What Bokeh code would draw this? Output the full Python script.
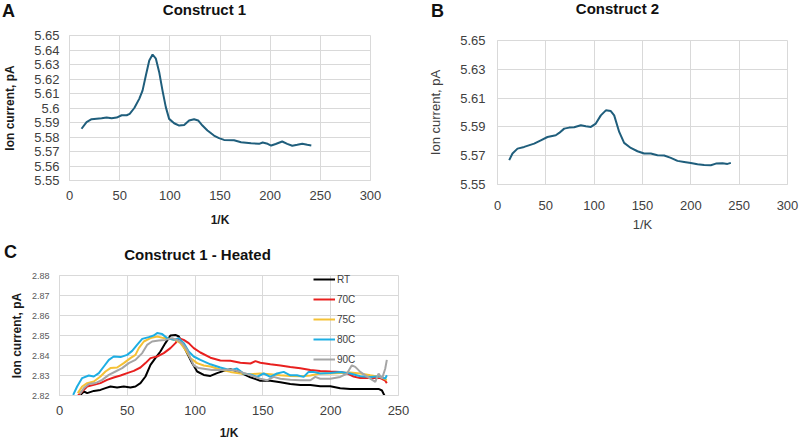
from bokeh.plotting import figure
from bokeh.layouts import column, row
from bokeh.models import (Range1d, FixedTicker, CustomJSTickFormatter,
                          Legend, LegendItem)
from bokeh.core.properties import value
from bokeh.embed import file_html
from bokeh.resources import INLINE

# ---------------- data ----------------
# Panel A: Construct 1
a_x = [12, 17, 22, 32, 37, 42, 47, 52, 57, 60, 64.6, 69.5, 72.8, 76.1, 79.5, 82.8,
       86.1, 89.4, 92.7, 96, 99.3, 104.3, 109.3, 114.3, 119.2, 124.2, 128.2, 132.5,
       137.5, 144, 149, 154, 164, 171, 181, 189, 192.5, 197.5, 201, 205.5, 212, 217,
       222, 227, 232, 237, 241]
a_y = [5.5857, 5.5902, 5.5923, 5.5930, 5.5935, 5.5930, 5.5934, 5.5950, 5.5950, 5.5960,
       5.6000, 5.6063, 5.6120, 5.6224, 5.6328, 5.6369, 5.6340, 5.6247, 5.6120, 5.6006,
       5.5925, 5.5895, 5.5879, 5.5883, 5.5914, 5.5922, 5.5914, 5.5879, 5.5845, 5.5810,
       5.5792, 5.5780, 5.5777, 5.5764, 5.5757, 5.5753, 5.5762, 5.5753, 5.5741, 5.5752,
       5.5769, 5.5753, 5.5740, 5.5746, 5.5753, 5.5746, 5.5741]

# Panel B: Construct 2
b_x = [12.1, 15.5, 20.7, 27.6, 37.9, 44.8, 51.7, 60.3, 63.8, 69, 74.1, 79.3, 86.2, 91.4,
       96.6, 101.7, 106.9, 112.1, 117.2, 120.7, 125.9, 131, 137.9, 144.8, 151.7, 158.6,
       165.5, 172.4, 179.3, 186.2, 193.1, 200, 206.9, 213.8, 220.7, 225.9, 232.8, 237.9,
       241.4]
b_y = [5.5669, 5.5715, 5.5749, 5.5761, 5.5784, 5.5807, 5.5830, 5.5842, 5.5858, 5.5888,
       5.5895, 5.5897, 5.5911, 5.5904, 5.5900, 5.5923, 5.5980, 5.6015, 5.6010, 5.5980,
       5.5865, 5.5789, 5.5754, 5.5731, 5.5715, 5.5715, 5.5703, 5.5701, 5.5685, 5.5664,
       5.5657, 5.5650, 5.5641, 5.5636, 5.5634, 5.5645, 5.5648, 5.5643, 5.5650]

# Panel C: Construct 1 - Heated
rt_x = [14.2, 18, 20.4, 25.3, 30.2, 33.9, 37.6, 42.5, 47.4, 52.3, 56, 59.7, 63.4, 67.1,
        70.7, 74.4, 78.1, 81.8, 85.5, 88, 90.4, 94.1, 97.8, 101.5, 106.4, 111.3, 116.2,
        121.1, 126, 133.4, 140.8, 148.1, 155.5, 162.9, 170.2, 177.6, 185, 192.3, 199.7,
        207, 214.4, 221.8, 229.2, 235.3, 237.8, 240.2]
rt_y = [2.8195, 2.8220, 2.8212, 2.8223, 2.8228, 2.8237, 2.8245, 2.8240, 2.8245, 2.8240,
        2.8245, 2.8262, 2.8295, 2.8353, 2.8387, 2.8420, 2.8462, 2.8500, 2.8503, 2.8495,
        2.8462, 2.8412, 2.8362, 2.8320, 2.8303, 2.8298, 2.8312, 2.8323, 2.8332, 2.8315,
        2.8291, 2.8274, 2.8274, 2.8266, 2.8258, 2.8253, 2.8253, 2.8246, 2.8246, 2.8236,
        2.8233, 2.8233, 2.8233, 2.8233, 2.8225, 2.8192]

c70_x = [13, 16.7, 20.4, 25.3, 30.2, 35.1, 40, 45, 49.9, 54.8, 59.7, 63.4, 67.1, 72,
         76.9, 81.8, 85.5, 88, 91.6, 95.3, 99, 103.9, 111.3, 118.6, 126, 133.4, 140.8,
         144.5, 148.1, 155.5, 162.9, 170.2, 177.6, 185, 192.3, 199.7, 207, 212, 216.9,
         221.8, 229.2, 236.6, 240.2, 241.4]
c70_y = [2.8195, 2.8220, 2.8245, 2.8253, 2.8262, 2.8278, 2.8290, 2.8300, 2.8312, 2.8323,
         2.8340, 2.8362, 2.8387, 2.8395, 2.8412, 2.8437, 2.8462, 2.8487, 2.8478, 2.8462,
         2.8437, 2.8415, 2.8389, 2.8375, 2.8374, 2.8364, 2.8360, 2.8372, 2.8364, 2.8356,
         2.8350, 2.8343, 2.8336, 2.8328, 2.8323, 2.8320, 2.8318, 2.8311, 2.8295, 2.8287,
         2.8289, 2.8287, 2.8274, 2.8262]

c75_x = [13.5, 16.7, 20.4, 25.3, 30.2, 33.9, 37.6, 42.5, 47.4, 52.3, 56, 58.5, 62.2,
         67.1, 72, 76.9, 81.8, 85.5, 89.2, 92.9, 96.5, 101.5, 106.4, 111.3, 118.6, 126,
         133.4, 140.8, 148.1, 155.5, 162.9, 170.2, 177.6, 185, 192.3, 199.7, 207, 214.4,
         221.8, 229.2, 236.6, 241.4]
c75_y = [2.8212, 2.8245, 2.8262, 2.8270, 2.8295, 2.8320, 2.8337, 2.8340, 2.8362, 2.8387,
         2.8403, 2.8437, 2.8470, 2.8487, 2.8495, 2.8487, 2.8483, 2.8478, 2.8462, 2.8428,
         2.8387, 2.8362, 2.8350, 2.8345, 2.8330, 2.8318, 2.8310, 2.8306, 2.8310, 2.8306,
         2.8301, 2.8298, 2.8296, 2.8300, 2.8310, 2.8310, 2.8313, 2.8315, 2.8310, 2.8301,
         2.8293, 2.8277]

c80_x = [10.1, 13, 16.7, 21.6, 25.3, 29, 32.7, 36.4, 40, 45, 49.9, 53.6, 57.2, 61, 65.8,
         69.5, 72, 75.7, 79.4, 84.3, 88, 91.6, 95.3, 99, 103.9, 111.3, 118.6, 126, 130.9,
         135.8, 140.8, 145.7, 150.6, 155.5, 160.4, 165.3, 170.2, 175.1, 180.1, 183.7,
         187.4, 192.3, 199.7, 207, 214.4, 221.8, 229.2, 236.6, 240.2, 241.4]
c80_y = [2.8203, 2.8245, 2.8287, 2.8300, 2.8295, 2.8312, 2.8345, 2.8378, 2.8395, 2.8392,
         2.8403, 2.8423, 2.8453, 2.8483, 2.8492, 2.8500, 2.8512, 2.8507, 2.8487, 2.8478,
         2.8487, 2.8462, 2.8420, 2.8395, 2.8378, 2.8356, 2.8340, 2.8327, 2.8335, 2.8310,
         2.8305, 2.8293, 2.8310, 2.8293, 2.8310, 2.8318, 2.8301, 2.8301, 2.8293, 2.8318,
         2.8318, 2.8310, 2.8313, 2.8318, 2.8310, 2.8296, 2.8293, 2.8296, 2.8284, 2.8301]

c90_x = [14.9, 18, 21.6, 26.6, 31.5, 36.4, 41.3, 46.2, 51.1, 56, 61, 64.6, 68.3, 73.2,
         78.1, 83, 86.7, 90.4, 94.1, 96.5, 99, 102.7, 107.6, 112.5, 118.6, 126, 133.4,
         140.8, 148.1, 153, 158, 162.9, 170.2, 177.6, 185, 188.6, 192.3, 199.7, 207, 212,
         215.6, 218.1, 221.8, 225.5, 229.2, 232.9, 235.3, 237.8, 240.2, 241.4]
c90_y = [2.8207, 2.8237, 2.8257, 2.8262, 2.8278, 2.8303, 2.8320, 2.8337, 2.8362, 2.8378,
         2.8412, 2.8453, 2.8470, 2.8475, 2.8478, 2.8487, 2.8478, 2.8462, 2.8428, 2.8387,
         2.8350, 2.8337, 2.8333, 2.8328, 2.8327, 2.8330, 2.8318, 2.8301, 2.8284, 2.8276,
         2.8293, 2.8284, 2.8279, 2.8276, 2.8276, 2.8293, 2.8284, 2.8284, 2.8293, 2.8310,
         2.8351, 2.8343, 2.8318, 2.8301, 2.8284, 2.8268, 2.8310, 2.8284, 2.8334, 2.8378]

series_names = ["RT", "70C", "75C", "80C", "90C"]
series_colors = ["#000000", "#e8201f", "#f5c135", "#1eaee3", "#a5a5a5"]

titles = ["Construct 1", "Construct 2", "Construct 1 - Heated"]
letters = ["A", "B", "C"]

ab_xticks = [0, 50, 100, 150, 200, 250, 300]
a_yticks = [5.55, 5.56, 5.57, 5.58, 5.59, 5.60, 5.61, 5.62, 5.63, 5.64, 5.65]
b_yticks = [5.55, 5.57, 5.59, 5.61, 5.63, 5.65]
c_xticks = [0, 50, 100, 150, 200, 250]
c_yticks = [2.82, 2.83, 2.84, 2.85, 2.86, 2.87, 2.88]

FONT = "Liberation Sans"
GRID = "#d9d9d9"
LINE_AB = "#1f5e7c"


def style(p, xticks, yticks, yfmt, tick_size, ytick_size, ytick_color):
    p.outline_line_color = GRID
    p.xaxis.ticker = FixedTicker(ticks=xticks)
    p.yaxis.ticker = FixedTicker(ticks=yticks)
    p.yaxis.formatter = CustomJSTickFormatter(code=yfmt)
    for ax in (p.xaxis[0], p.yaxis[0]):
        ax.axis_line_color = GRID
        ax.major_tick_line_color = None
        ax.minor_tick_line_color = None
        ax.major_tick_in = 0
        ax.major_tick_out = 0
        ax.minor_tick_in = 0
        ax.minor_tick_out = 0
        ax.major_label_text_font = FONT
    p.xaxis.major_label_text_font_size = tick_size
    p.xaxis.major_label_text_color = "#404040"
    p.yaxis.major_label_text_font_size = ytick_size
    p.yaxis.major_label_text_color = ytick_color
    p.xgrid.grid_line_color = GRID
    p.ygrid.grid_line_color = GRID


def heading_strip(width, height, entries):
    """A strip that holds panel letters and titles; 1 unit = 1 px, y downwards."""
    s = figure(width=width, height=height, output_backend="svg",
               toolbar_location=None, x_range=Range1d(0, width),
               y_range=Range1d(height, 0), x_axis_location=None,
               y_axis_location=None, min_border=0, min_border_left=0,
               min_border_right=0, min_border_top=0, min_border_bottom=0)
    s.outline_line_color = None
    s.grid.visible = False
    for txt, x, y, size in entries:
        s.text(x=[x], y=[y], text=[txt], text_font=value(FONT),
               text_font_size=size, text_font_style="bold", text_align="center",
               text_baseline="middle", text_color="#111111")
    return s


# ---------------- headings ----------------
strip1 = heading_strip(800, 20, [(letters[0], 8, 10, "18px"),
                                 (titles[0], 204, 9, "15px"),
                                 (letters[1], 437, 10, "18px"),
                                 (titles[1], 617, 8, "15px")])
strip2 = heading_strip(420, 28, [(letters[2], 10, 15, "18px"),
                                 (titles[2], 197, 18, "15px")])

# ---------------- Panel A ----------------
pA = figure(width=400, height=216, output_backend="svg", toolbar_location=None,
            x_range=Range1d(0, 300), y_range=Range1d(5.55, 5.65),
            min_border_left=68, min_border_right=30, min_border_top=15,
            min_border_bottom=56)
pA.line(a_x, a_y, line_color=LINE_AB, line_width=2)
style(pA, ab_xticks, a_yticks, "return Number(tick.toFixed(2)).toString();",
      "13px", "13px", "#404040")
pA.xaxis.axis_label = "1/K"
pA.yaxis.axis_label = "Ion current, pA"
for ax in (pA.xaxis[0], pA.yaxis[0]):
    ax.axis_label_text_font = FONT
    ax.axis_label_text_font_size = "12px"
    ax.axis_label_text_font_style = "bold"
    ax.axis_label_text_color = "#1a1a1a"
pA.xaxis.major_label_standoff = 10
pA.xaxis.axis_label_standoff = 10
pA.yaxis.major_label_standoff = 10
pA.yaxis.axis_label_standoff = 14

# ---------------- Panel B ----------------
pB = figure(width=400, height=216, output_backend="svg", toolbar_location=None,
            x_range=Range1d(0, 300), y_range=Range1d(5.55, 5.65),
            min_border_left=97, min_border_right=13, min_border_top=20,
            min_border_bottom=52)
pB.line(b_x, b_y, line_color=LINE_AB, line_width=2)
style(pB, ab_xticks, b_yticks, "return tick.toFixed(2);", "13px", "13px", "#404040")
pB.xaxis.axis_label = "1/K"
pB.yaxis.axis_label = "Ion current, pA"
for ax in (pB.xaxis[0], pB.yaxis[0]):
    ax.axis_label_text_font = FONT
    ax.axis_label_text_font_size = "13px"
    ax.axis_label_text_font_style = "normal"
    ax.axis_label_text_color = "#404040"
pB.xaxis.major_label_standoff = 16
pB.xaxis.axis_label_standoff = 4
pB.yaxis.major_label_standoff = 12
pB.yaxis.axis_label_standoff = 14

# ---------------- Panel C ----------------
pC = figure(width=420, height=178, output_backend="svg", toolbar_location=None,
            x_range=Range1d(0, 250), y_range=Range1d(2.82, 2.88),
            min_border_left=59, min_border_right=22, min_border_top=11,
            min_border_bottom=46)
style(pC, c_xticks, c_yticks, "return tick.toFixed(2);", "13px", "9px", "#595959")
pC.xaxis.axis_label = "1/K"
pC.yaxis.axis_label = "Ion current, pA"
for ax in (pC.xaxis[0], pC.yaxis[0]):
    ax.axis_label_text_font = FONT
    ax.axis_label_text_font_size = "12px"
    ax.axis_label_text_font_style = "bold"
    ax.axis_label_text_color = "#1a1a1a"
pC.xaxis.major_label_standoff = 10
pC.xaxis.axis_label_standoff = 8
pC.yaxis.major_label_standoff = 10
pC.yaxis.axis_label_standoff = 5

c_xs = [rt_x, c70_x, c75_x, c80_x, c90_x]
c_ys = [rt_y, c70_y, c75_y, c80_y, c90_y]
items = []
for name, col, xs, ys in zip(series_names, series_colors, c_xs, c_ys):
    r = pC.line(xs, ys, line_color=col, line_width=2)
    items.append(LegendItem(label=name, renderers=[r]))
leg = Legend(items=items, location=(254, 26), padding=0, margin=0, spacing=0,
             glyph_width=22, glyph_height=20, label_height=20, label_standoff=2,
             label_text_font=FONT, label_text_font_size="10px",
             label_text_color="#404040", background_fill_alpha=0,
             border_line_color=None)
pC.add_layout(leg)

# each plot wrapped on its own so that the layout does not align their frames
layout = column(row(strip1), row(column(pA), column(pB)), row(strip2), row(pC))
open("out.html", "w").write(file_html(layout, INLINE))
